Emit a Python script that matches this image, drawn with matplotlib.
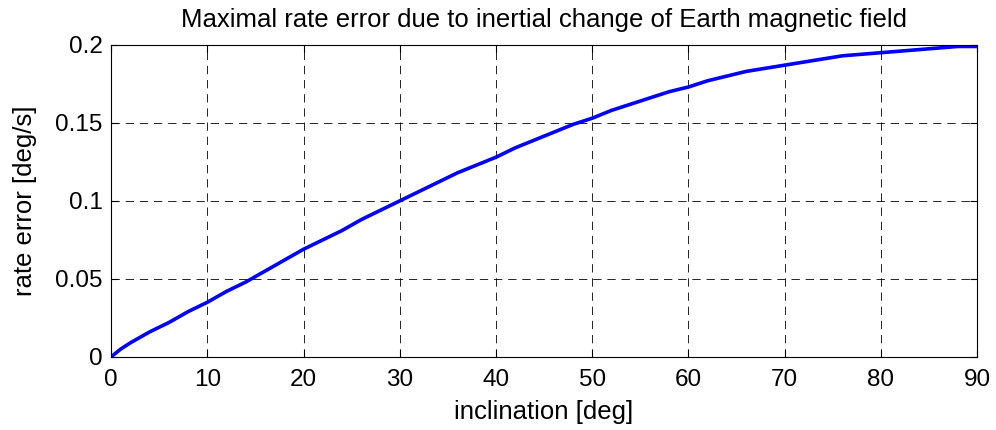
import matplotlib
matplotlib.use("Agg")
import matplotlib.pyplot as plt

# inclination [deg] and rate error [deg/s]
inclination = [0, 1, 2, 4, 6, 8, 10, 12, 14, 16, 18, 20, 22, 24, 26, 28, 30,
               32, 34, 36, 38, 40, 42, 44, 46, 48, 50, 52, 54, 56, 58, 60,
               62, 64, 66, 68, 70, 72, 74, 76, 78, 80, 82, 84, 86, 88, 90]
rate_error = [0.0, 0.005, 0.009, 0.016, 0.022, 0.029, 0.035, 0.042, 0.048,
              0.055, 0.062, 0.069, 0.075, 0.081, 0.088, 0.094, 0.100,
              0.106, 0.112, 0.118, 0.123, 0.128, 0.134, 0.139, 0.144,
              0.149, 0.153, 0.158, 0.162, 0.166, 0.170, 0.173, 0.177,
              0.180, 0.183, 0.185, 0.187, 0.189, 0.191, 0.193, 0.194,
              0.195, 0.196, 0.197, 0.198, 0.199, 0.199]
x_ticks = [0, 10, 20, 30, 40, 50, 60, 70, 80, 90]
y_ticks = [0, 0.05, 0.1, 0.15, 0.2]
y_tick_labels = ["0", "0.05", "0.1", "0.15", "0.2"]

plt.rcParams["font.family"] = ["Liberation Sans", "DejaVu Sans"]

fig = plt.figure(figsize=(9.96, 4.3), dpi=100)
ax = fig.add_axes([0.1115, 0.17, 0.8695, 0.7256])
ax.plot(inclination, rate_error, color="#0000ff", linewidth=2.6)

ax.set_xlim(0, 90)
ax.set_ylim(0, 0.2)
ax.set_xticks(x_ticks)
ax.set_yticks(y_ticks)
ax.set_yticklabels(y_tick_labels)
ax.tick_params(direction="in", top=True, right=True, labelsize=17.5, length=5,
               width=0.8)
ax.tick_params(axis="x", pad=9)
ax.tick_params(axis="y", pad=6)
ax.grid(True, color="black", linestyle=(0, (10, 7)), linewidth=0.6)
for s in ax.spines.values():
    s.set_linewidth(0.8)

ax.set_title("Maximal rate error due to inertial change of Earth magnetic field",
             fontsize=18.5, pad=13)
ax.set_xlabel("inclination [deg]", fontsize=18.5, labelpad=6)
ax.set_ylabel("rate error [deg/s]", fontsize=18.5, labelpad=13)

fig.savefig("out.png", dpi=100)
